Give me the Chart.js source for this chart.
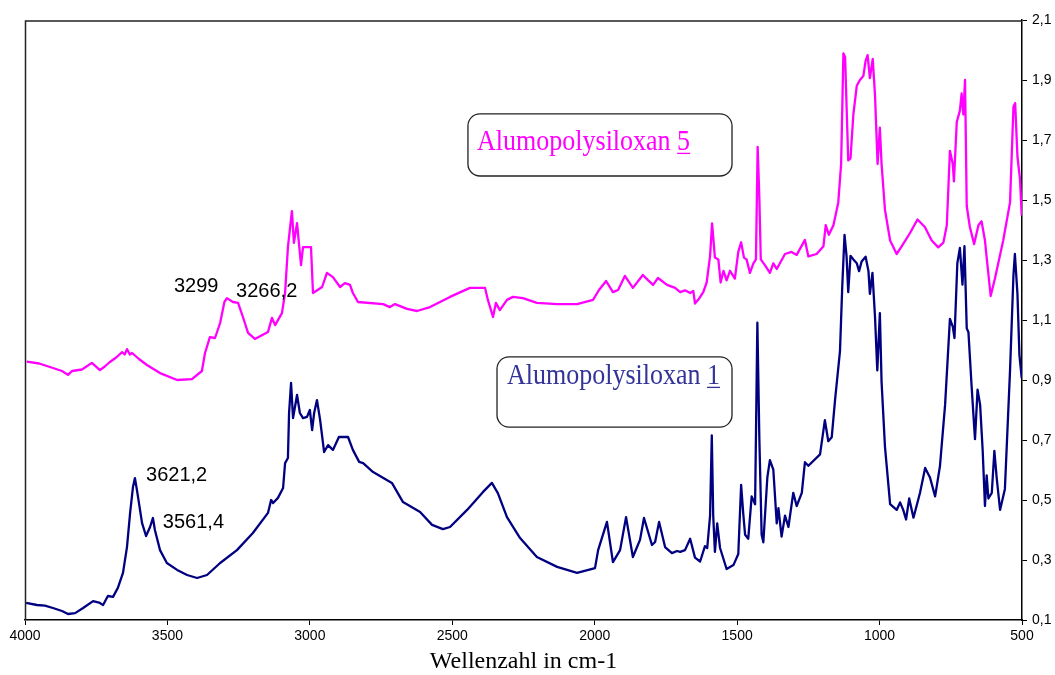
<!DOCTYPE html>
<html>
<head>
<meta charset="utf-8">
<script src="https://cdn.jsdelivr.net/npm/chart.js@4.4.1/dist/chart.umd.min.js"></script>
<style>
  html, body { margin: 0; padding: 0; background: #fff; }
  #wrap { width: 1055px; height: 675px; }
</style>
</head>
<body>
<div id="wrap"><canvas id="irChart" width="1055" height="675"></canvas></div>
<script>
// Alumopolysiloxan 5 (magenta)
const waveNum5 = [3994, 3950, 3902, 3870, 3849, 3835, 3800, 3765, 3737, 3720, 3702, 3680, 3659, 3650, 3642, 3632, 3624, 3600, 3572, 3526,
  3466, 3414, 3379, 3368, 3351, 3333, 3315, 3300, 3291, 3270, 3252, 3235, 3217, 3193, 3147, 3133, 3122, 3098, 3087, 3077,
  3063, 3056, 3045, 3031, 3024, 2996, 2989, 2957, 2940, 2919, 2894, 2877, 2859, 2849, 2831, 2743, 2719, 2701, 2659, 2624,
  2578, 2508, 2438, 2385, 2375, 2357, 2347, 2333, 2308, 2287, 2252, 2203, 2132, 2062, 2006, 1985, 1960, 1936, 1918, 1894,
  1866, 1831, 1813, 1795, 1778, 1746, 1718, 1700, 1683, 1665, 1654, 1648, 1636, 1619, 1607, 1595, 1588, 1578, 1566, 1558,
  1548, 1537, 1525, 1508, 1496, 1486, 1476, 1467, 1455, 1443, 1434, 1428, 1422, 1417, 1402, 1385, 1373, 1361, 1332, 1309,
  1291, 1262, 1250, 1221, 1197, 1189, 1178, 1162, 1145, 1135, 1127, 1121, 1110, 1102, 1092, 1080, 1069, 1057, 1049, 1042,
  1034, 1024, 1016, 1007, 999, 993, 981, 963, 940, 922, 893, 867, 841, 817, 794, 776, 764, 753, 743, 739,
  729, 718, 712, 706, 700, 694, 683, 668, 653, 642, 630, 624, 610, 595, 566, 542, 530, 524, 516, 507, 501];
const absorb5 = [0.961, 0.955, 0.94, 0.93, 0.917, 0.93, 0.935, 0.957, 0.933, 0.945, 0.96, 0.975, 0.993, 0.985, 1.003, 0.985, 0.99, 0.97, 0.95, 0.923,
  0.9, 0.903, 0.93, 0.99, 1.043, 1.04, 1.09, 1.16, 1.173, 1.16, 1.157, 1.11, 1.057, 1.037, 1.06, 1.107, 1.083, 1.123, 1.19, 1.343,
  1.463, 1.357, 1.423, 1.283, 1.343, 1.343, 1.19, 1.21, 1.257, 1.243, 1.21, 1.223, 1.217, 1.19, 1.16, 1.153, 1.143, 1.153, 1.137, 1.13,
  1.143, 1.177, 1.207, 1.207, 1.167, 1.11, 1.157, 1.133, 1.167, 1.177, 1.173, 1.157, 1.153, 1.153, 1.167, 1.2, 1.23, 1.193, 1.2, 1.247,
  1.207, 1.25, 1.233, 1.217, 1.24, 1.217, 1.207, 1.193, 1.199, 1.19, 1.197, 1.155, 1.168, 1.193, 1.225, 1.314, 1.422, 1.308, 1.302, 1.225,
  1.264, 1.232, 1.264, 1.238, 1.327, 1.359, 1.308, 1.302, 1.257, 1.289, 1.302, 1.677, 1.505, 1.302, 1.282, 1.257, 1.289, 1.27, 1.32, 1.327,
  1.317, 1.367, 1.312, 1.32, 1.346, 1.416, 1.384, 1.416, 1.492, 1.62, 1.989, 1.976, 1.632, 1.639, 1.785, 1.881, 1.9, 1.913, 1.964, 1.983,
  1.906, 1.97, 1.849, 1.62, 1.741, 1.62, 1.467, 1.365, 1.32, 1.346, 1.39, 1.435, 1.41, 1.365, 1.342, 1.358, 1.416, 1.664, 1.62, 1.562,
  1.76, 1.798, 1.855, 1.785, 1.9, 1.48, 1.41, 1.353, 1.416, 1.429, 1.365, 1.308, 1.18, 1.238, 1.365, 1.492, 1.811, 1.823, 1.645, 1.569, 1.448];

// Alumopolysiloxan 1 (navy)
const waveNum1 = [3996, 3958, 3930, 3902, 3870, 3849, 3824, 3796, 3761, 3740, 3726, 3709, 3691, 3674, 3656, 3642, 3631, 3621, 3614, 3607,
  3589, 3575, 3561, 3551, 3544, 3526, 3502, 3466, 3431, 3396, 3361, 3315, 3256, 3200, 3147, 3136, 3129, 3112, 3094, 3087,
  3077, 3073, 3066, 3059, 3045, 3035, 3024, 3010, 3000, 2992, 2985, 2975, 2964, 2950, 2936, 2919, 2898, 2866, 2849, 2827,
  2813, 2778, 2712, 2673, 2613, 2571, 2533, 2508, 2448, 2392, 2361, 2340, 2308, 2262, 2203, 2132, 2062, 1999, 1988, 1957,
  1936, 1911, 1890, 1866, 1841, 1827, 1799, 1788, 1774, 1753, 1729, 1711, 1700, 1683, 1665, 1648, 1630, 1613, 1605, 1595,
  1589, 1584, 1578, 1570, 1560, 1537, 1513, 1496, 1486, 1478, 1472, 1461, 1449, 1437, 1429, 1422, 1414, 1408, 1394, 1385,
  1373, 1361, 1355, 1344, 1332, 1320, 1303, 1291, 1273, 1262, 1250, 1209, 1192, 1180, 1168, 1156, 1139, 1131, 1123, 1116,
  1110, 1102, 1092, 1080, 1072, 1063, 1049, 1039, 1034, 1025, 1016, 1008, 999, 993, 981, 963, 940, 928, 917, 907,
  896, 881, 858, 840, 823, 805, 788, 770, 753, 743, 737, 727, 718, 709, 702, 694, 688, 677, 665, 656,
  647, 638, 630, 624, 618, 606, 597, 589, 577, 560, 542, 530, 525, 516, 509, 501];
const absorb1 = [0.157, 0.15, 0.148, 0.14, 0.13, 0.12, 0.123, 0.14, 0.163, 0.158, 0.15, 0.18, 0.177, 0.207, 0.257, 0.343, 0.457, 0.543, 0.573, 0.533,
  0.423, 0.38, 0.41, 0.44, 0.4, 0.333, 0.29, 0.267, 0.25, 0.24, 0.25, 0.29, 0.333, 0.39, 0.457, 0.5, 0.49, 0.507, 0.54, 0.623,
  0.64, 0.79, 0.89, 0.773, 0.85, 0.79, 0.773, 0.777, 0.8, 0.733, 0.79, 0.833, 0.767, 0.66, 0.683, 0.667, 0.71, 0.71, 0.667, 0.627,
  0.623, 0.593, 0.557, 0.493, 0.46, 0.417, 0.403, 0.41, 0.467, 0.527, 0.557, 0.523, 0.443, 0.373, 0.31, 0.277, 0.257, 0.273, 0.333, 0.427,
  0.293, 0.333, 0.443, 0.31, 0.367, 0.44, 0.35, 0.36, 0.427, 0.343, 0.323, 0.33, 0.327, 0.333, 0.371, 0.308, 0.295, 0.346, 0.34, 0.448,
  0.715, 0.448, 0.327, 0.422, 0.34, 0.27, 0.283, 0.32, 0.55, 0.448, 0.384, 0.371, 0.512, 0.486, 1.091, 0.703, 0.384, 0.359, 0.575, 0.633,
  0.601, 0.422, 0.473, 0.378, 0.448, 0.41, 0.524, 0.48, 0.524, 0.626, 0.614, 0.652, 0.766, 0.696, 0.709, 0.836, 0.996, 1.212, 1.384, 1.314,
  1.193, 1.314, 1.302, 1.289, 1.263, 1.295, 1.311, 1.263, 1.187, 1.257, 1.11, 0.932, 1.123, 0.894, 0.677, 0.486, 0.467, 0.492, 0.467, 0.435,
  0.505, 0.441, 0.524, 0.607, 0.575, 0.512, 0.613, 0.817, 1.104, 1.078, 1.04, 1.289, 1.34, 1.218, 1.346, 1.072, 1.059, 0.881, 0.703, 0.868,
  0.817, 0.664, 0.48, 0.582, 0.505, 0.524, 0.664, 0.575, 0.467, 0.537, 0.932, 1.25, 1.32, 1.187, 0.983, 0.906];

const xTickValues = [4000, 3500, 3000, 2500, 2000, 1500, 1000, 500];
const yTickValues = [0.1, 0.3, 0.5, 0.7, 0.9, 1.1, 1.3, 1.5, 1.7, 1.9, 2.1];

// peak labels and the two boxed captions, placed in data units
const peakLabels = [
  { text: '3299', x: 3477, y: 1.193 },
  { text: '3266,2', x: 3259, y: 1.177 },
  { text: '3621,2', x: 3575, y: 0.563 },
  { text: '3561,4', x: 3516, y: 0.407 }
];
const captions = [
  { name: 'Alumopolysiloxan ', num: '5', color: '#ff00ff', x0: 2445, y0: 1.787, x1: 1518, y1: 1.58, tx: 2413, ty: 1.667 },
  { name: 'Alumopolysiloxan ', num: '1', color: '#333399', x0: 2343, y0: 0.977, x1: 1518, y1: 0.743, tx: 2308, ty: 0.887 }
];

const toPoints = (xs, ys) => xs.map((x, i) => ({ x, y: ys[i] }));

const roundRect = (ctx, x, y, w, h, r) => {
  ctx.beginPath();
  ctx.moveTo(x + r, y);
  ctx.arcTo(x + w, y, x + w, y + h, r);
  ctx.arcTo(x + w, y + h, x, y + h, r);
  ctx.arcTo(x, y + h, x, y, r);
  ctx.arcTo(x, y, x + w, y, r);
  ctx.closePath();
};

const extrasPlugin = {
  id: 'extras',
  afterDraw(chart) {
    const { ctx, chartArea, scales } = chart;
    const sx = scales.x;
    const sy = scales.y;
    ctx.save();
    // frame (top + left)
    ctx.strokeStyle = '#222';
    ctx.lineWidth = 1.5;
    ctx.beginPath();
    ctx.moveTo(chartArea.left + 0.5, chartArea.bottom);
    ctx.lineTo(chartArea.left + 0.5, chartArea.top + 1);
    ctx.lineTo(chartArea.right, chartArea.top + 1);
    ctx.stroke();

    // peak labels
    ctx.fillStyle = '#000';
    ctx.font = '20px "Liberation Sans", Arial, sans-serif';
    ctx.textBaseline = 'alphabetic';
    ctx.textAlign = 'left';
    peakLabels.forEach((p) => {
      ctx.fillText(p.text, sx.getPixelForValue(p.x), sy.getPixelForValue(p.y));
    });

    // captions
    captions.forEach((c) => {
      const x0 = sx.getPixelForValue(c.x0);
      const x1 = sx.getPixelForValue(c.x1);
      const y0 = sy.getPixelForValue(c.y0);
      const y1 = sy.getPixelForValue(c.y1);
      roundRect(ctx, x0, y0, x1 - x0, y1 - y0, 12);
      ctx.fillStyle = '#fff';
      ctx.fill();
      ctx.strokeStyle = '#222';
      ctx.lineWidth = 1.3;
      ctx.stroke();

      const tx = sx.getPixelForValue(c.tx);
      const ty = sy.getPixelForValue(c.ty);
      ctx.save();
      ctx.translate(tx, ty);
      ctx.scale(1, 1.15);
      ctx.font = '26px "Liberation Serif", "Times New Roman", serif';
      ctx.fillStyle = c.color;
      ctx.fillText(c.name + c.num, 0, 0);
      const wName = ctx.measureText(c.name).width;
      const wNum = ctx.measureText(c.num).width;
      ctx.restore();
      ctx.strokeStyle = c.color;
      ctx.lineWidth = 1.3;
      ctx.beginPath();
      ctx.moveTo(tx + wName, ty + 3.5);
      ctx.lineTo(tx + wName + wNum, ty + 3.5);
      ctx.stroke();
    });

    // x axis title
    ctx.fillStyle = '#000';
    ctx.font = '24px "Liberation Serif", "Times New Roman", serif';
    ctx.textAlign = 'center';
    ctx.textBaseline = 'middle';
    ctx.fillText('Wellenzahl in cm-1', (chartArea.left + chartArea.right) / 2, 662);
    ctx.restore();
  }
};

const irChart = new Chart(document.getElementById('irChart'), {
  type: 'line',
  data: {
    datasets: [
      {
        label: 'Alumopolysiloxan 5',
        data: toPoints(waveNum5, absorb5),
        borderColor: '#ff00ff',
        borderWidth: 2.3,
        pointRadius: 0,
        borderJoinStyle: 'round',
        tension: 0,
        fill: false
      },
      {
        label: 'Alumopolysiloxan 1',
        data: toPoints(waveNum1, absorb1),
        borderColor: '#000080',
        borderWidth: 2.3,
        pointRadius: 0,
        borderJoinStyle: 'round',
        tension: 0,
        fill: false
      }
    ]
  },
  options: {
    responsive: false,
    animation: false,
    layout: { padding: { left: 25, top: 20, right: 0, bottom: 0 } },
    plugins: {
      legend: { display: false },
      tooltip: { enabled: false }
    },
    scales: {
      x: {
        type: 'linear',
        reverse: true,
        min: 500,
        max: 4000,
        afterBuildTicks: (scale) => { scale.ticks = xTickValues.map((v) => ({ value: v })); },
        afterFit: (scale) => { scale.height = 55; },
        grid: { drawOnChartArea: false, drawTicks: true, tickLength: 5, color: '#000' },
        border: { display: true, color: '#000', width: 1.5 },
        ticks: {
          color: '#000',
          padding: 3,
          maxRotation: 0,
          autoSkip: false,
          font: { family: '"Liberation Sans", Arial, sans-serif', size: 14 },
          callback: (v) => String(v)
        }
      },
      y: {
        type: 'linear',
        position: 'right',
        min: 0.1,
        max: 2.1,
        afterBuildTicks: (scale) => { scale.ticks = yTickValues.map((v) => ({ value: v })); },
        afterFit: (scale) => { scale.width = 33; },
        grid: { drawOnChartArea: false, drawTicks: true, tickLength: 5, color: '#000' },
        border: { display: true, color: '#000', width: 1.5 },
        ticks: {
          color: '#000',
          padding: 5,
          autoSkip: false,
          font: { family: '"Liberation Sans", Arial, sans-serif', size: 14 },
          callback: (v) => v.toFixed(1).replace('.', ',')
        }
      }
    }
  },
  plugins: [extrasPlugin]
});
</script>
</body>
</html>
